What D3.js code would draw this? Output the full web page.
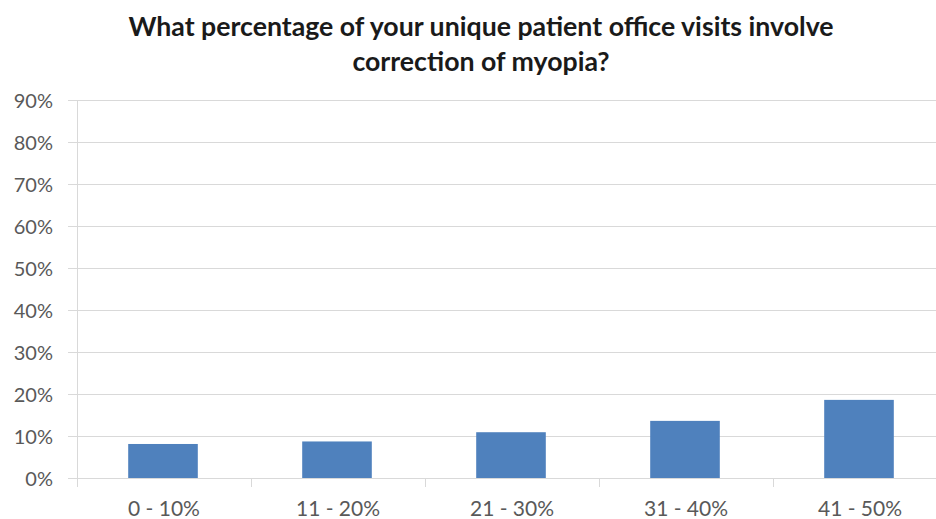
<!DOCTYPE html>
<html>
<head>
<meta charset="utf-8">
<script src="https://cdnjs.cloudflare.com/ajax/libs/d3/7.8.5/d3.min.js"></script>
<style>
  body { margin: 0; background: #fff; }
  text { font-family: Lato, "Open Sans", sans-serif; }
</style>
</head>
<body>
<div id="chart"></div>
<script>
// Survey: share of office visits involving myopia correction
var categories = ["0 - 10%", "11 - 20%", "21 - 30%", "31 - 40%", "41 - 50%"];
var values = [0.081, 0.087, 0.109, 0.136, 0.186];
var yTicks = [0, 0.1, 0.2, 0.3, 0.4, 0.5, 0.6, 0.7, 0.8, 0.9];
var titleLines = ["What percentage of your unique patient office visits involve", "correction of myopia?"];

var svgWidth = 936, svgHeight = 519;
var margin = { top: 100, left: 77, bottom: 41 };
var plotRight = 947;

var svg = d3.select("#chart").append("svg")
  .attr("width", svgWidth)
  .attr("height", svgHeight);

var x = d3.scaleBand().domain(categories).range([margin.left, plotRight]).padding(0);
var y = d3.scaleLinear().domain([0, 0.9]).range([svgHeight - margin.bottom, margin.top]);

// gridlines
svg.append("g")
  .selectAll("line")
  .data(yTicks)
  .enter().append("line")
  .attr("x1", margin.left - 9)
  .attr("x2", svgWidth)
  .attr("y1", function (d) { return y(d) + 0.5; })
  .attr("y2", function (d) { return y(d) + 0.5; })
  .attr("stroke", "#d9d9d9")
  .attr("stroke-width", 1);

// y axis
var yAxis = svg.append("g")
  .attr("transform", "translate(" + margin.left + ",0)")
  .call(d3.axisLeft(y).tickValues(yTicks).tickSize(0).tickPadding(24)
    .tickFormat(function (d) { return Math.round(d * 100) + "%"; }));
yAxis.select(".domain").attr("stroke", "#d9d9d9").attr("d", "M0.5," + y(0.9) + "V" + (y(0) + 1));
yAxis.selectAll("text")
  .attr("fill", "#595959")
  .attr("dy", "0.38em")
  .style("font-size", "20px");

// x axis
var xAxis = svg.append("g")
  .attr("transform", "translate(0," + y(0) + ")")
  .call(d3.axisBottom(x).tickSize(0).tickPadding(22));
xAxis.select(".domain").remove();
xAxis.selectAll("text")
  .attr("fill", "#595959")
  .attr("y", 38)
  .attr("dy", 0)
  .style("font-size", "21px");

// category tick marks between bands
svg.append("g")
  .selectAll("line")
  .data(categories)
  .enter().append("line")
  .attr("x1", function (d) { return x(d) + 0.5; })
  .attr("x2", function (d) { return x(d) + 0.5; })
  .attr("y1", y(0))
  .attr("y2", y(0) + 9)
  .attr("stroke", "#d9d9d9");

// bars
var barW = x.bandwidth() * 0.4;
svg.append("g")
  .selectAll("rect")
  .data(values)
  .enter().append("rect")
  .attr("x", function (d, i) { return x(categories[i]) + x.bandwidth() / 2 - barW / 2 - 1; })
  .attr("y", function (d) { return y(d); })
  .attr("width", barW)
  .attr("height", function (d) { return y(0) - y(d); })
  .attr("fill", "#4f81bd");

// title
svg.append("text")
  .attr("x", 481)
  .attr("y", 36)
  .attr("text-anchor", "middle")
  .attr("fill", "#1a1a1a")
  .style("font-size", "26.7px")
  .style("font-weight", "bold")
  .selectAll("tspan")
  .data(titleLines)
  .enter().append("tspan")
  .attr("x", 481)
  .attr("dy", function (d, i) { return i === 0 ? 0 : 35; })
  .text(function (d) { return d; });
</script>
</body>
</html>
